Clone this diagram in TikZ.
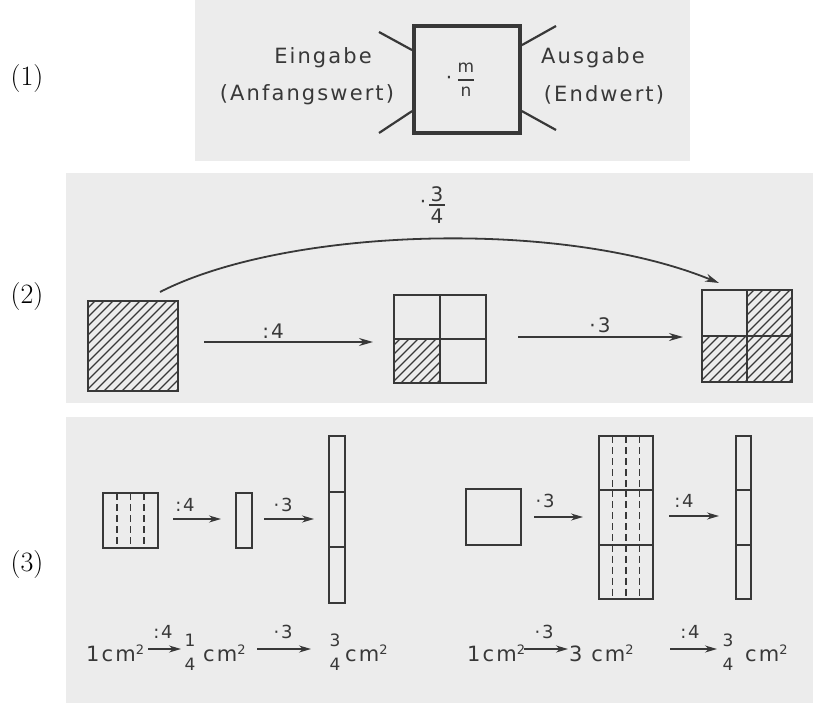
\documentclass[tikz,border=0pt]{standalone}
\usepackage{fontspec}
\newfontfamily\din[LetterSpace=10]{DejaVu Sans}
\usetikzlibrary{arrows.meta,calc}
\definecolor{paper}{gray}{0.925}
\definecolor{ink}{gray}{0.22}
\newcommand\myhatch[4]{%
  \begin{scope}
    \clip (#1,#2) rectangle (#3,#4);
    \foreach \k in {0,9,...,220} \draw[hatch] ({#1-110+\k},#4) -- ++(200,-200);
  \end{scope}}
\newcommand\mydash[3]{\draw[dashline] (#1,#2) -- (#1,#3);}
\newcommand\sqr{\raisebox{7pt}{\fontsize{13}{13}\selectfont 2}}
\tikzset{
  panel/.style={fill=paper, draw=none},
  fig/.style={draw=ink, line width=2.4pt, inner sep=0pt, outer sep=0pt},
  thinfig/.style={draw=ink, line width=2.1pt, inner sep=0pt, outer sep=0pt},
  hatch/.style={draw=ink, line width=1.1pt},
  dashline/.style={draw=ink, line width=1.8pt, dash pattern=on 7pt off 4pt},
  arr/.style={draw=ink, line width=1.8pt, -{Stealth[length=14pt,width=8pt]}},
  sarr/.style={draw=ink, line width=1.6pt, -{Stealth[length=12pt,width=7pt]}},
  lab/.style={font=\din\fontsize{20}{20}\selectfont, text=ink, inner sep=0pt},
  slab/.style={font=\din\fontsize{18}{18}\selectfont, text=ink, inner sep=0pt},
  txt/.style={font=\din\fontsize{21}{21}\selectfont, text=ink, inner sep=0pt},
  btxt/.style={font=\din\fontsize{21}{21}\selectfont, text=ink, inner sep=0pt, anchor=base west},
  frac/.style={font=\din\fontsize{17}{17}\selectfont, text=ink, inner sep=0pt},
  num/.style={font=\fontsize{28}{28}\selectfont, inner sep=0pt},
}
\begin{document}
\begin{tikzpicture}[x=1pt,y=-1pt]
\useasboundingbox (0,0) rectangle (813,703);
% panels
\fill[panel] (195,0) rectangle (690,161);
\fill[panel] (66,173) rectangle (813,403);
\fill[panel] (66,417) rectangle (813,703);
% labels
\node[num] (l1) at (27,79) {(1)};
\node[num] (l2) at (27,297) {(2)};
\node[num] (l3) at (27,565) {(3)};

% ---------- panel 1
\node[draw=ink, line width=3.8pt, minimum width=106pt, minimum height=107pt, inner sep=0pt] (box) at (467,79.5) {};
\coordinate (ulA) at (379,32);  \coordinate (ulB) at ($(box.north west)+(0,26)$);
\coordinate (llA) at (379,133); \coordinate (llB) at ($(box.north west)+(0,87)$);
\coordinate (urA) at (556,26);  \coordinate (urB) at ($(box.north east)+(0,21)$);
\coordinate (lrA) at (556,130); \coordinate (lrB) at ($(box.north east)+(0,87)$);
\draw[ink, line width=2.2pt] (ulA) -- (ulB);
\draw[ink, line width=2.2pt] (llA) -- (llB);
\draw[ink, line width=2.2pt] (urA) -- (urB);
\draw[ink, line width=2.2pt] (lrA) -- (lrB);
\node[txt] (ein) at (323,58) {Eingabe};
\node[txt] (anf) at (307,95) {(Anfangswert)};
\node[txt] (aus) at (593,58) {Ausgabe};
\node[txt] (end) at (604,95) {(Endwert)};
\node[lab] (mdot) at (449,80) {·};
\node[frac] (mm) at (466,68) {m};
\node[frac] (nn) at (466,92) {n};
\draw[ink, line width=1.5pt] (458,80) -- (474,80);

% ---------- panel 2
\myhatch{88}{301}{178}{391}
\myhatch{394}{339}{440}{383}
\myhatch{746}{290}{792}{336}
\myhatch{702}{336}{746}{382}
\myhatch{746}{336}{792}{382}
\node[fig, minimum width=90pt, minimum height=90pt] (A) at (133,346) {};
\node[fig, minimum width=92pt, minimum height=88pt] (B) at (440,339) {};
\draw[fig] (B.north) -- (B.south);
\draw[fig] (B.west) -- (B.east);
\node[fig, minimum width=90pt, minimum height=92pt] (C) at (747,336) {};
\draw[fig] (C.north) -- (C.south);
\draw[fig] (C.west) -- (C.east);
\coordinate (a1s) at (204,342); \coordinate (a1e) at (373,342);
\draw[arr] (a1s) -- (a1e);
\node[lab] (a1l) at (273,331) {:4};
\coordinate (a2s) at (518,337); \coordinate (a2e) at (683,337);
\draw[arr] (a2s) -- (a2e);
\node[lab] (a2l) at (600,325) {·3};
\coordinate (cs) at (160,292); \coordinate (ce) at (719,283);
\draw[arr, line width=1.8pt] (cs) .. controls (285,228) and (560,218) .. (ce);
\node[lab] (cdot) at (423,204) {·};
\node[lab] (c3) at (437,194) {3};
\node[lab] (c4) at (437,216) {4};
\draw[ink, line width=1.6pt] (429,205) -- (445,205);

% ---------- panel 3 top row
\mydash{116.75}{493}{548}
\mydash{130.5}{493}{548}
\mydash{144.25}{493}{548}
\node[thinfig, minimum width=55pt, minimum height=55pt] (D) at (130.5,520.5) {};
\coordinate (b1s) at (173,519); \coordinate (b1e) at (221,519);
\draw[sarr] (b1s) -- (b1e);
\node[slab] (b1l) at (185,505) {:4};
\node[thinfig, minimum width=16pt, minimum height=55pt] (E) at (244,520.5) {};
\coordinate (b2s) at (264,519); \coordinate (b2e) at (314,519);
\draw[sarr] (b2s) -- (b2e);
\node[slab] (b2l) at (283,505) {·3};
\node[thinfig, minimum width=16pt, minimum height=167pt] (F) at (337,519.5) {};
\draw[thinfig] ($(F.north west)+(0,55.7)$) -- ($(F.north east)+(0,55.7)$);
\draw[thinfig] ($(F.north west)+(0,111.3)$) -- ($(F.north east)+(0,111.3)$);

\node[thinfig, minimum width=55pt, minimum height=56pt] (G) at (493.5,517) {};
\coordinate (b3s) at (534,517); \coordinate (b3e) at (583,517);
\draw[sarr] (b3s) -- (b3e);
\node[slab] (b3l) at (545,501) {·3};
\foreach \xx in {612.5,626,639.5}{
  \mydash{\xx}{436}{490.3}
  \mydash{\xx}{490.3}{544.7}
  \mydash{\xx}{544.7}{599}
}
\node[thinfig, minimum width=54pt, minimum height=163pt] (H) at (626,517.5) {};
\draw[thinfig] ($(H.north west)+(0,54.3)$) -- ($(H.north east)+(0,54.3)$);
\draw[thinfig] ($(H.north west)+(0,108.7)$) -- ($(H.north east)+(0,108.7)$);
\coordinate (b4s) at (669,516); \coordinate (b4e) at (719,516);
\draw[sarr] (b4s) -- (b4e);
\node[slab] (b4l) at (684,501) {:4};
\node[thinfig, minimum width=15pt, minimum height=163pt] (I) at (743.5,517.5) {};
\draw[thinfig] ($(I.north west)+(0,54.3)$) -- ($(I.north east)+(0,54.3)$);
\draw[thinfig] ($(I.north west)+(0,108.7)$) -- ($(I.north east)+(0,108.7)$);

% ---------- panel 3 bottom row
\node[btxt] (t1) at (86,661) {1cm\sqr};
\coordinate (c1s) at (148,649); \coordinate (c1e) at (181,649);
\draw[sarr, line width=1.5pt] (c1s) -- (c1e);
\node[slab] (c1l) at (163,632) {:4};
\node[frac] (f1n) at (190,640) {1};
\node[frac] (f1d) at (190,664) {4};
\node[btxt] (t2) at (203,661) {cm\sqr};
\coordinate (c2s) at (257,649); \coordinate (c2e) at (311,649);
\draw[sarr, line width=1.5pt] (c2s) -- (c2e);
\node[slab] (c2l) at (283,632) {·3};
\node[frac] (f2n) at (335,640) {3};
\node[frac] (f2d) at (335,664) {4};
\node[btxt] (t3) at (345,661) {cm\sqr};

\node[btxt] (t4) at (467,661) {1cm\sqr};
\coordinate (c3s) at (524,649); \coordinate (c3e) at (568,649);
\draw[sarr, line width=1.5pt] (c3s) -- (c3e);
\node[slab] (c3l) at (544,632) {·3};
\node[btxt] (t5) at (569,661) {3 cm\sqr};
\coordinate (c4s) at (670,649); \coordinate (c4e) at (717,649);
\draw[sarr, line width=1.5pt] (c4s) -- (c4e);
\node[slab] (c4l) at (690,632) {:4};
\node[frac] (f3n) at (728,640) {3};
\node[frac] (f3d) at (728,664) {4};
\node[btxt] (t6) at (745,661) {cm\sqr};
\end{tikzpicture}
\end{document}
